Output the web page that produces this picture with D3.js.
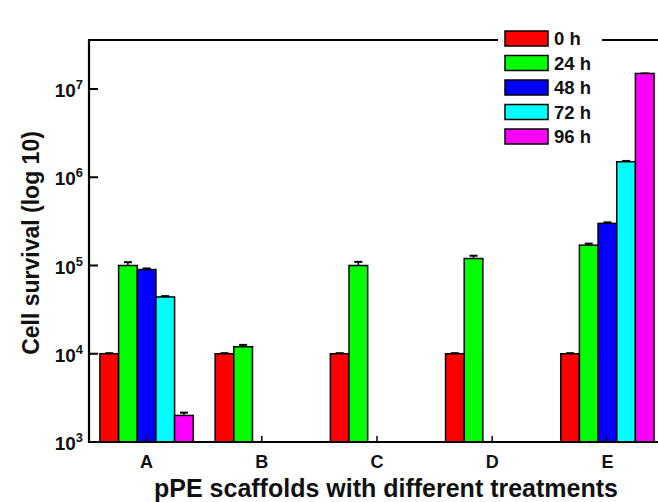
<!DOCTYPE html>
<html>
<head>
<meta charset="utf-8">
<script src="https://cdn.jsdelivr.net/npm/d3@7"></script>
<style>
  html, body { margin: 0; padding: 0; background: #fff; }
  svg { display: block; font-family: "Liberation Sans", Arial, sans-serif; }
</style>
</head>
<body>
<svg id="chart" width="658" height="502"></svg>
<script>
// Scaffold groups and sampling times
const groups = ["A", "B", "C", "D", "E"];
const times = ["0 h", "24 h", "48 h", "72 h", "96 h"];
const colors = ["#ff0000", "#00ff00", "#0000ff", "#00ffff", "#ff00ff"];

// Mean cell counts per time point (null = not measured)
const values0h  = [1e4, 1e4, 1e4, 1e4, 1e4];
const values24h = [1.0e5, 1.2e4, 1.0e5, 1.2e5, 1.7e5];
const values48h = [9.0e4, null, null, null, 3.0e5];
const values72h = [4.4e4, null, null, null, 1.5e6];
const values96h = [2.0e3, null, null, null, 1.5e7];

// Upper error values
const err0h  = [150, 150, 150, 150, 150];
const err24h = [9000, 600, 10000, 9000, 7000];
const err48h = [2500, null, null, null, 8000];
const err72h = [1000, null, null, null, 30000];
const err96h = [150, null, null, null, 0];

const tickValues = [1e3, 1e4, 1e5, 1e6, 1e7];
const tickExponents = ["3", "4", "5", "6", "7"];

const series = [values0h, values24h, values48h, values72h, values96h];
const errors = [err0h, err24h, err48h, err72h, err96h];

const svg = d3.select("#chart");
const left = 89, right = 665, bottom = 442, frameTop = 40;

const x = d3.scaleBand().domain(groups).range([left, right])
  .paddingInner(0.19).paddingOuter(0.095);
const xInner = d3.scaleBand().domain(times).range([0, x.bandwidth()]);
const y = d3.scaleLog().domain([1e3, 1e7]).range([bottom, 89]);

// Bars
const bars = [];
groups.forEach((g, gi) => {
  times.forEach((t, ti) => {
    const v = series[ti][gi];
    if (v != null) bars.push({ g, t, ti, v, e: errors[ti][gi] });
  });
});

const barG = svg.append("g");
// error bars (drawn first so the bar outline sits on top)
const eb = barG.selectAll("g.err").data(bars).join("g").attr("class", "err");
eb.append("line")
  .attr("x1", d => x(d.g) + xInner(d.t) + xInner.bandwidth() / 2)
  .attr("x2", d => x(d.g) + xInner(d.t) + xInner.bandwidth() / 2)
  .attr("y1", d => y(d.v))
  .attr("y2", d => y(d.v + d.e))
  .attr("stroke", "#000").attr("stroke-width", 1.5);
eb.append("line")
  .attr("x1", d => x(d.g) + xInner(d.t) + xInner.bandwidth() / 2 - 4)
  .attr("x2", d => x(d.g) + xInner(d.t) + xInner.bandwidth() / 2 + 4)
  .attr("y1", d => y(d.v + d.e))
  .attr("y2", d => y(d.v + d.e))
  .attr("stroke", "#000").attr("stroke-width", 2);

barG.selectAll("rect.bar").data(bars).join("rect").attr("class", "bar")
  .attr("x", d => x(d.g) + xInner(d.t))
  .attr("width", xInner.bandwidth())
  .attr("y", d => y(d.v))
  .attr("height", d => bottom - y(d.v))
  .attr("fill", d => colors[d.ti])
  .attr("stroke", "#000").attr("stroke-width", 1.5);

// Frame
svg.append("line").attr("x1", left).attr("x2", left)
  .attr("y1", frameTop).attr("y2", bottom + 1)
  .attr("stroke", "#000").attr("stroke-width", 2.2);
svg.append("line").attr("x1", left - 1).attr("x2", right)
  .attr("y1", bottom).attr("y2", bottom)
  .attr("stroke", "#000").attr("stroke-width", 2.2);
svg.append("line").attr("x1", left - 1).attr("x2", right)
  .attr("y1", frameTop).attr("y2", frameTop)
  .attr("stroke", "#000").attr("stroke-width", 2);

// Y ticks and labels
const yt = svg.append("g");
tickValues.forEach((tv, i) => {
  yt.append("line").attr("x1", left).attr("x2", left + 9)
    .attr("y1", y(tv)).attr("y2", y(tv))
    .attr("stroke", "#000").attr("stroke-width", 2);
  const txt = yt.append("text")
    .attr("x", left - 6).attr("y", y(tv) + 8)
    .attr("text-anchor", "end")
    .attr("font-size", 19).attr("font-weight", "bold").attr("fill", "#111");
  txt.append("tspan").text("10");
  txt.append("tspan").attr("dy", -8).attr("font-size", 13).text(tickExponents[i]);
});

// X ticks and labels
groups.forEach(g => {
  const cx = x(g) + x.bandwidth() / 2;
  svg.append("line").attr("x1", cx).attr("x2", cx)
    .attr("y1", bottom).attr("y2", bottom - 6)
    .attr("stroke", "#000").attr("stroke-width", 1.5);
  svg.append("text").attr("x", cx).attr("y", 468)
    .attr("text-anchor", "middle")
    .attr("font-size", 18).attr("font-weight", "bold").attr("fill", "#111")
    .text(g);
});

// Axis titles
svg.append("text")
  .attr("transform", "translate(39,243) rotate(-90)")
  .attr("text-anchor", "middle")
  .attr("font-size", 23).attr("font-weight", "bold").attr("fill", "#111")
  .text("Cell survival (log 10)");
svg.append("text")
  .attr("x", 386).attr("y", 497)
  .attr("text-anchor", "middle")
  .attr("font-size", 25).attr("font-weight", "bold").attr("fill", "#111")
  .text("pPE scaffolds with different treatments");

// Legend (on a white panel over the frame)
const lg = svg.append("g");
lg.append("rect").attr("x", 498).attr("y", 28)
  .attr("width", 104).attr("height", 124).attr("fill", "#fff");
times.forEach((t, i) => {
  const ly = 31 + i * 24.5;
  lg.append("rect").attr("x", 505).attr("y", ly)
    .attr("width", 43).attr("height", 15)
    .attr("fill", colors[i]).attr("stroke", "#000").attr("stroke-width", 1.5);
  lg.append("text").attr("x", 554).attr("y", ly + 14)
    .attr("font-size", 18.5).attr("font-weight", "bold").attr("fill", "#111")
    .text(t);
});
</script>
</body>
</html>
